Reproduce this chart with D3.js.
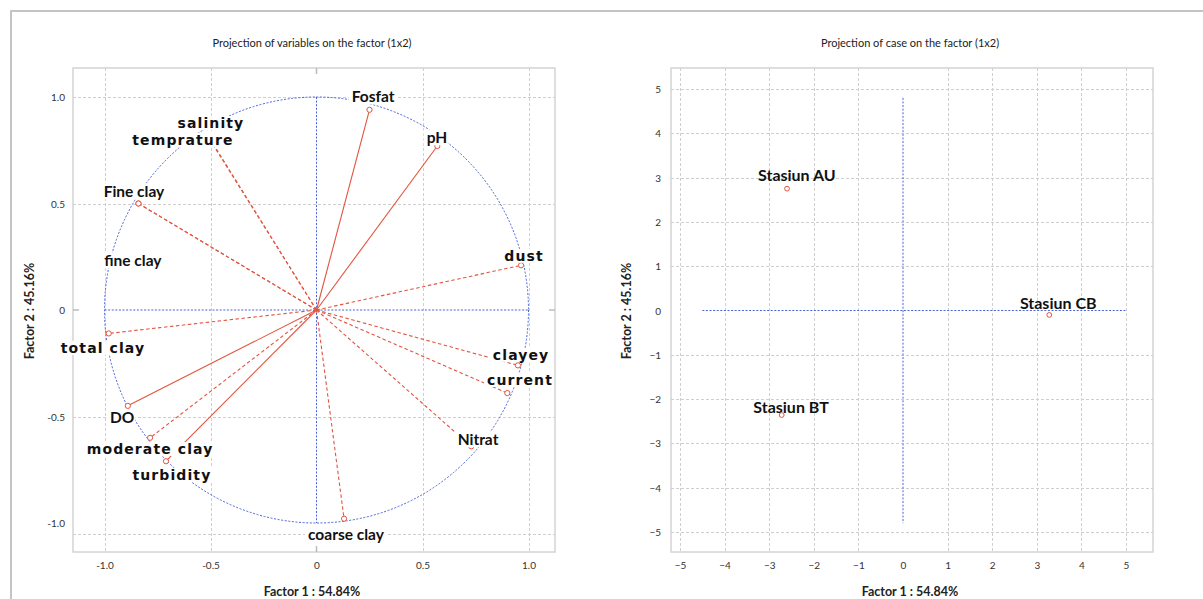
<!DOCTYPE html>
<html><head><meta charset="utf-8">
<script src="https://cdn.jsdelivr.net/npm/d3@7"></script>
<style>body{margin:0;background:#fff;} svg{display:block;}</style>
</head><body>
<svg id="chart" width="1203" height="599"></svg>
<script>
// ---------- data: projection of variables ----------
const varNames = ["Fosfat","pH","dust","salinity","temprature","Fine clay","fine clay","total clay","DO","moderate clay","turbidity","clayey","current","Nitrat","coarse clay"];
const varF1 = [0.25, 0.57, 0.965, -0.50, -0.50, -0.84, -0.84, -0.98, -0.89, -0.785, -0.71, 0.95, 0.90, 0.73, 0.13];
const varF2 = [0.94, 0.77, 0.21, 0.80, 0.795, 0.50, 0.50, -0.11, -0.45, -0.60, -0.71, -0.26, -0.39, -0.64, -0.98];
const activeVars = ["Fosfat","pH","DO","turbidity"];
const spacedLabels = ["dust","salinity","temprature","total clay","moderate clay","turbidity","clayey","current"];
const varLabelF1 = [0.267, 0.568, 0.979, -0.498, -0.630, -0.861, -0.866, -1.007, -0.917, -0.785, -0.682, 0.965, 0.960, 0.762, 0.139];
const varLabelF2 = [1.0, 0.808, 0.254, 0.878, 0.798, 0.554, 0.230, -0.178, -0.507, -0.653, -0.775, -0.211, -0.329, -0.610, -1.052];
const varTicks = [-1, -0.5, 0, 0.5, 1];
const varTickLabels = ["-1.0", "-0.5", "0", "0.5", "1.0"];

// ---------- data: projection of cases ----------
const caseNames = ["Stasiun AU","Stasiun BT","Stasiun CB"];
const caseF1 = [-2.6, -2.72, 3.28];
const caseF2 = [2.75, -2.36, -0.1];
const caseLabelF1 = [-2.38, -2.51, 3.48];
const caseLabelF2 = [3.04, -2.18, 0.16];
const caseTicks = [-5, -4, -3, -2, -1, 0, 1, 2, 3, 4, 5];

const titles = ["Projection of variables on the factor (1x2)", "Projection of case on the factor (1x2)"];
const xTitle = "Factor 1 : 54.84%";
const yTitle = "Factor 2 : 45.16%";

// ---------- styles ----------
const RED = "#e2553f", BLUE = "#4a63d6", GRID = "#cfcfcf", FRAME = "#d4d4d4";
const svg = d3.select("#chart");

svg.append("path").attr("d", "M11,599 V11 H1203").attr("fill", "none").attr("stroke", "#c4c4c4").attr("stroke-width", 2);

function panel(opts) {
  const g = svg.append("g");
  const {x, y, frame, gx, gy, ticks, tickFmt} = opts;
  g.append("rect").attr("x", frame[0]).attr("y", frame[1]).attr("width", frame[2]-frame[0]).attr("height", frame[3]-frame[1])
    .attr("fill", "none").attr("stroke", FRAME).attr("stroke-width", 1.5);
  g.selectAll(".gx").data(gx).join("line")
    .attr("x1", d => Math.round(x(d)) + 0.5).attr("x2", d => Math.round(x(d)) + 0.5).attr("y1", frame[1]).attr("y2", frame[3])
    .attr("stroke", GRID).attr("stroke-dasharray", "3,2").attr("stroke-width", 1);
  g.selectAll(".gy").data(gy).join("line")
    .attr("y1", d => Math.round(y(d)) + 0.5).attr("y2", d => Math.round(y(d)) + 0.5).attr("x1", frame[0]).attr("x2", frame[2])
    .attr("stroke", GRID).attr("stroke-dasharray", "3,2").attr("stroke-width", 1);
  const ax = d3.axisBottom(x).tickValues(ticks).tickFormat(tickFmt).tickSize(0).tickPadding(0);
  const ay = d3.axisLeft(y).tickValues(ticks).tickFormat(tickFmt).tickSize(0).tickPadding(0);
  const gax = g.append("g").attr("transform", `translate(0,${frame[3] + 10})`).call(ax);
  const gay = g.append("g").attr("transform", `translate(${frame[0] - opts.yPad},0)`).call(ay);
  [gax, gay].forEach(a => {
    a.select(".domain").remove();
    a.selectAll("text").attr("font-family", "Lato, 'Open Sans', sans-serif").attr("font-size", 10).attr("fill", "#333");
  });
  gay.selectAll("text").attr("dy", "0.35em");
  const cx = (frame[0] + frame[2]) / 2 - 2;
  g.append("text").attr("x", cx).attr("y", 47).attr("text-anchor", "middle")
    .attr("font-family", "Lato, sans-serif").attr("font-size", 11).attr("fill", "#222").text(opts.title);
  g.append("text").attr("x", cx).attr("y", 596).attr("text-anchor", "middle")
    .attr("font-family", "Lato, sans-serif").attr("font-weight", "bold").attr("font-size", 12.5).attr("fill", "#222").text(xTitle);
  g.append("text").attr("transform", `translate(${opts.yTitleX},${(frame[1] + frame[3]) / 2 + 1}) rotate(-90)`)
    .attr("text-anchor", "middle").attr("font-family", "Lato, sans-serif").attr("font-weight", "bold")
    .attr("font-size", 12.5).attr("fill", "#222").text(yTitle);
  return g;
}

// ---------- left panel ----------
const xL = d3.scaleLinear().domain([-1, 1]).range([104.5, 528.5]);
const yL = d3.scaleLinear().domain([-1, 1]).range([523, 97]);
const frameL = [73, 68, 555, 552];
const gL = panel({x: xL, y: yL, frame: frameL, gx: [-1, -0.5, 0.5, 1], gy: [1, 0.5, -0.5, -1.05],
  ticks: varTicks, tickFmt: (d, i) => varTickLabels[i], title: titles[0], yPad: 8, yTitleX: 34});
const tk = [[xL(0), frameL[1], xL(0), frameL[1] + 6], [xL(0), frameL[3], xL(0), frameL[3] - 6],
            [frameL[0], yL(0), frameL[0] + 6, yL(0)], [frameL[2], yL(0), frameL[2] - 6, yL(0)]];
gL.selectAll(".zt").data(tk).join("line").attr("x1", d => d[0]).attr("y1", d => d[1]).attr("x2", d => d[2]).attr("y2", d => d[3])
  .attr("stroke", "#bbb").attr("stroke-width", 1.5);
const dotted = "2,1.6";
gL.append("line").attr("x1", xL(-1)).attr("x2", xL(1)).attr("y1", yL(0)).attr("y2", yL(0)).attr("stroke", BLUE).attr("stroke-dasharray", dotted);
gL.append("line").attr("x1", xL(0)).attr("x2", xL(0)).attr("y1", yL(1)).attr("y2", yL(-1)).attr("stroke", BLUE).attr("stroke-dasharray", dotted);
gL.append("ellipse").attr("cx", xL(0)).attr("cy", yL(0)).attr("rx", xL(1) - xL(0)).attr("ry", yL(0) - yL(1))
  .attr("fill", "none").attr("stroke", BLUE).attr("stroke-dasharray", dotted);
const vars = varNames.map((n, i) => ({n, f1: varF1[i], f2: varF2[i], lf1: varLabelF1[i], lf2: varLabelF2[i], active: activeVars.includes(n), spaced: spacedLabels.includes(n)}));
gL.selectAll(".vec").data(vars).join("line")
  .attr("x1", xL(0)).attr("y1", yL(0)).attr("x2", d => xL(d.f1)).attr("y2", d => yL(d.f2))
  .attr("stroke", RED).attr("stroke-width", 1.1).attr("stroke-dasharray", d => d.active ? null : "3.5,2.5");
gL.selectAll(".pt").data(vars).join("circle")
  .attr("cx", d => xL(d.f1)).attr("cy", d => yL(d.f2)).attr("r", 2.6)
  .attr("fill", "#fff").attr("stroke", RED).attr("stroke-width", 1);
const lblG = gL.selectAll(".lbl").data(vars).join("g");
lblG.append("rect");
lblG.append("text")
  .attr("x", d => xL(d.lf1)).attr("y", d => yL(d.lf2)).attr("dy", "0.35em").attr("text-anchor", "middle")
  .attr("font-family", d => d.spaced ? "'DejaVu Sans', sans-serif" : "Lato, sans-serif")
  .attr("font-size", d => d.spaced ? 14 : 15.5).attr("font-weight", "bold")
  .attr("letter-spacing", d => d.spaced ? "1.1px" : null).attr("fill", "#111").text(d => d.n);
lblG.each(function() {
  const t = d3.select(this).select("text").node().getBBox();
  d3.select(this).select("rect").attr("x", t.x - 3).attr("y", t.y + 1).attr("width", t.width + 4).attr("height", t.height - 2).attr("fill", "#fff");
});

// ---------- right panel ----------
const xR = d3.scaleLinear().domain([-5, 5]).range([680, 1126]);
const yR = d3.scaleLinear().domain([-5, 5]).range([532, 89]);
const frameR = [671, 68, 1153, 552];
const gR = panel({x: xR, y: yR, frame: frameR, gx: caseTicks.filter(d => d !== 0), gy: caseTicks.filter(d => d !== 0),
  ticks: caseTicks, tickFmt: d3.format("d"), title: titles[1], yPad: 10, yTitleX: 631});
gR.append("line").attr("x1", xR(-4.5)).attr("x2", xR(5)).attr("y1", yR(0)).attr("y2", yR(0)).attr("stroke", BLUE).attr("stroke-dasharray", dotted);
gR.append("line").attr("x1", xR(0)).attr("x2", xR(0)).attr("y1", yR(4.8)).attr("y2", yR(-4.8)).attr("stroke", BLUE).attr("stroke-dasharray", dotted);
const cases = caseNames.map((n, i) => ({n, f1: caseF1[i], f2: caseF2[i], lf1: caseLabelF1[i], lf2: caseLabelF2[i]}));
gR.selectAll(".clbl").data(cases).join("text")
  .attr("x", d => xR(d.lf1)).attr("y", d => yR(d.lf2)).attr("dy", "0.35em").attr("text-anchor", "middle")
  .attr("font-family", "Lato, sans-serif").attr("font-size", 16).attr("font-weight", "bold").attr("fill", "#111").text(d => d.n);
gR.selectAll(".cpt").data(cases).join("circle")
  .attr("cx", d => xR(d.f1)).attr("cy", d => yR(d.f2)).attr("r", 2.4)
  .attr("fill", "#fff").attr("stroke", RED).attr("stroke-width", 1);
</script>
</body></html>
